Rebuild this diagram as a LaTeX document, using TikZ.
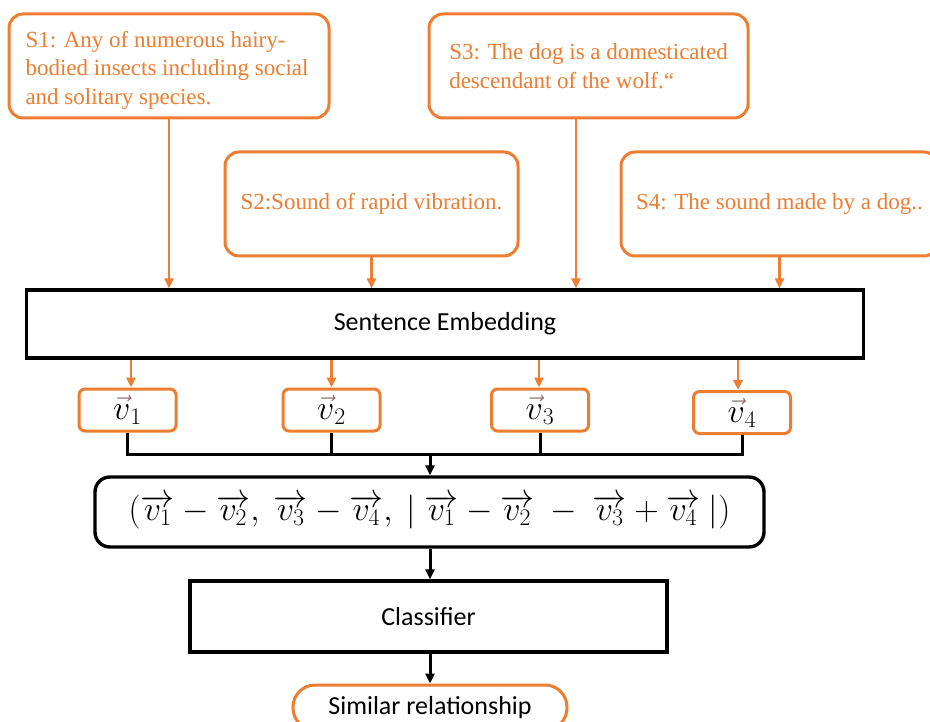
\RequirePackage{fix-cm}
\documentclass[tikz,border=0pt]{standalone}
\usepackage{fontspec}
\setmainfont{Liberation Serif}
\newfontfamily\calibri{Carlito}
\usetikzlibrary{arrows.meta}
\definecolor{orng}{HTML}{ED7D31}
\definecolor{vgray}{HTML}{8C7474}
\newcommand{\gv}{{\color{vgray}\vec{\textcolor{black}{v}}}}
\tikzset{
  sbox/.style={draw=orng, line width=3pt, rounded corners=14pt, inner sep=0pt, text=orng,
    font=\fontsize{23}{28.5}\selectfont, align=left},
  vbox/.style={draw=orng, line width=3pt, rounded corners=6pt, inner sep=0pt,
    minimum width=97pt, minimum height=42pt, font=\fontsize{34}{36}\selectfont},
  blkbox/.style={draw=black, line width=3.4pt, inner sep=0pt, font=\calibri\fontsize{26}{30}\selectfont},
  oarrow/.style={draw=orng, line width=2.8pt, -{Triangle[length=10pt,width=9pt]}},
  barrow/.style={draw=black, line width=3pt, -{Triangle[length=10pt,width=9pt]}},
  bline/.style={draw=black, line width=3pt},
}
\begin{document}
\begin{tikzpicture}[x=1pt,y=-1pt]
\clip (0,0) rectangle (930,722);
\useasboundingbox (0,0) rectangle (930,722);
\fill[white] (0,0) rectangle (930,722);

% sentence boxes
\node[sbox, minimum width=320pt, minimum height=104pt] (S1) at (169,66) {};
\node[text=orng, font=\fontsize{23}{28.5}\selectfont, align=left, inner sep=0pt] (S1t) at (167,70)
  {S1: Any of numerous hairy-\\bodied insects including social\\and solitary species.};
\node[sbox, minimum width=319pt, minimum height=104pt] (S3) at (588.5,66)
  {S3: The dog is a domesticated\\descendant of the wolf.“};
\node[sbox, minimum width=293pt, minimum height=104pt] (S2) at (371.5,204)
  {S2:Sound of rapid vibration.};
\node[sbox, minimum width=317pt, minimum height=104pt] (S4) at (779.5,204)
  {S4: The sound made by a dog..};

% sentence embedding
\node[blkbox, minimum width=837pt, minimum height=68pt] (emb) at (445,324) {Sentence Embedding};

% vectors
\node[vbox] (v1) at (127.5,410) {$\gv_1$};
\node[vbox] (v2) at (331.5,410) {$\gv_2$};
\node[vbox] (v3) at (540,410) {$\gv_3$};
\node[vbox] (v4) at (742,412.5) {$\gv_4$};

% formula
\node[blkbox, rounded corners=15pt, minimum width=669pt, minimum height=70pt,
  font=\fontsize{34}{38}\selectfont] (form) at (429.5,512)
  {$(\overrightarrow{v_1}-\overrightarrow{v_2},\ \overrightarrow{v_3}-\overrightarrow{v_4},\ |\ \overrightarrow{v_1}-\overrightarrow{v_2}\ -\ \overrightarrow{v_3}+\overrightarrow{v_4}\ |)$};

% classifier
\node[blkbox, minimum width=477pt, minimum height=71pt] (cls) at (428.5,616.5) {Classifier};

% output
\node[draw=orng, line width=3pt, rounded corners=22pt, minimum width=274pt, minimum height=45pt,
  inner sep=0pt, font=\calibri\fontsize{26}{30}\selectfont] (out) at (430,707.5) {Similar relationship};

% arrows sentences -> embedding
\draw[oarrow] (S1.south) -- (S1.south |- emb.north);
\draw[oarrow] (S2.south) -- (S2.south |- emb.north);
\draw[oarrow] ([xshift=-12.5pt]S3.south) -- ([xshift=-12.5pt]S3.south |- emb.north);
\draw[oarrow] (S4.south) -- (S4.south |- emb.north);

% embedding -> vectors
\draw[oarrow] ([xshift=3.5pt]v1.north |- emb.south) -- ([xshift=3.5pt]v1.north);
\draw[oarrow] (v2.north |- emb.south) -- (v2.north);
\draw[oarrow] ([xshift=-1pt]v3.north |- emb.south) -- ([xshift=-1pt]v3.north);
\draw[oarrow] ([xshift=-4pt]v4.north |- emb.south) -- ([xshift=-4pt]v4.north);

% vectors -> formula
\coordinate (J) at (430,454);
\draw[bline] (v1.south) |- (J);
\draw[bline] (v2.south) |- (J);
\draw[bline] (v3.south) |- (J);
\draw[bline] (v4.south) |- (J);
\draw[barrow] (J) -- (J |- form.north);

\draw[barrow] (form.south -| J) -- (cls.north -| J);
\draw[barrow] (cls.south -| J) -- (out.north -| J);
\end{tikzpicture}
\end{document}
